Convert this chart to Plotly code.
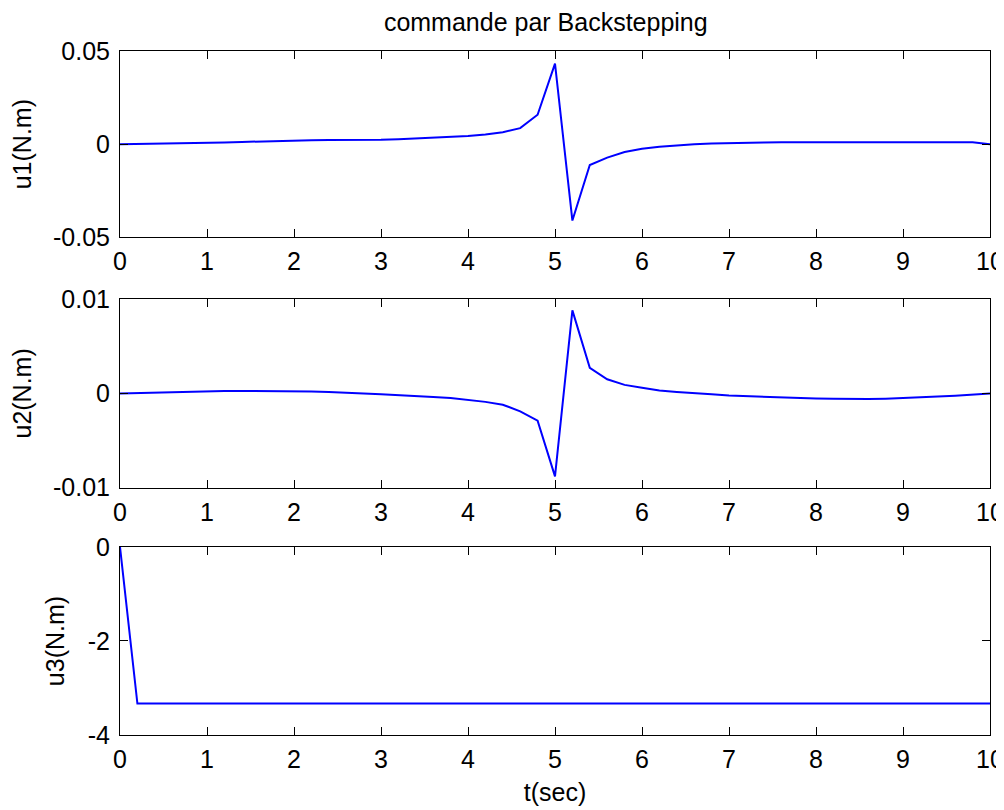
import plotly.graph_objects as go

# ---- data ----
t = [0.0, 0.2, 0.4, 0.6, 0.8, 1.0, 1.2, 1.4, 1.6, 1.8,
     2.0, 2.2, 2.4, 2.6, 2.8, 3.0, 3.2, 3.4, 3.6, 3.8,
     4.0, 4.2, 4.4, 4.6, 4.8, 5.0, 5.2, 5.4, 5.6, 5.8,
     6.0, 6.2, 6.4, 6.6, 6.8, 7.0, 7.2, 7.4, 7.6, 7.8,
     8.0, 8.2, 8.4, 8.6, 8.8, 9.0, 9.2, 9.4, 9.6, 9.8, 10.0]

u1 = [0.0, 0.0001, 0.0002, 0.0003, 0.0004, 0.0006, 0.0009, 0.0012, 0.0015, 0.0018,
      0.0020, 0.0021, 0.0022, 0.0022, 0.0023, 0.0024, 0.0027, 0.0031, 0.0035, 0.0039,
      0.0044, 0.0052, 0.0064, 0.0086, 0.0158, 0.0432, -0.0410, -0.0112, -0.0072, -0.0042,
      -0.0025, -0.0014, -0.0006, -0.0001, 0.0003, 0.0006, 0.0008, 0.0009, 0.0010, 0.0010,
      0.0010, 0.0010, 0.0010, 0.0010, 0.0010, 0.0010, 0.0010, 0.0010, 0.0010, 0.0010, 0.0]

u2 = [0.0, 0.00005, 0.0001, 0.00015, 0.0002, 0.00022, 0.00024, 0.00025, 0.00025, 0.00024,
      0.00022, 0.0002, 0.00015, 0.0001, 0.0, -0.00008, -0.00016, -0.00026, -0.00038, -0.0005,
      -0.00068, -0.0009, -0.0012, -0.0019, -0.0029, -0.0088, 0.0088, 0.0027, 0.0015, 0.0009,
      0.0006, 0.0003, 0.00015, 0.0, -0.0001, -0.00022, -0.0003, -0.00038, -0.00045, -0.0005,
      -0.00055, -0.00058, -0.0006, -0.0006, -0.00056, -0.0005, -0.00042, -0.00034, -0.00024, -0.00014, 0.0]

u3 = [0.0] + [-3.33] * 50

x_ticks = [0, 1, 2, 3, 4, 5, 6, 7, 8, 9, 10]
x_ticktext = ["0", "1", "2", "3", "4", "5", "6", "7", "8", "9", "10"]
y1_ticks = [-0.05, 0, 0.05]
y1_text = ["-0.05", "0", "0.05"]
y2_ticks = [-0.01, 0, 0.01]
y2_text = ["-0.01", "0", "0.01"]
y3_ticks = [-4, -2, 0]
y3_text = ["-4", "-2", "0"]

title_text = "commande par Backstepping"
xlabel = "t(sec)"
ylabels = ["u1(N.m)", "u2(N.m)", "u3(N.m)"]

FONT = "Liberation Sans, Arial, sans-serif"
FS = 25
LINE = "#0000ff"

# page body has an 8px default margin; the figure is sized to fit inside the window
W, H = 996, 802

fig = go.Figure()
series = [u1, u2, u3]
for i, s in enumerate(series):
    sfx = "" if i == 0 else str(i + 1)
    fig.add_trace(go.Scatter(x=t, y=s, mode="lines",
                             line=dict(color=LINE, width=2),
                             xaxis="x" + sfx, yaxis="y" + sfx,
                             showlegend=False, hoverinfo="skip"))

domains = [[0.7276, 1.0], [0.3615, 0.6374], [0.0, 0.2749]]
yranges = [[-0.05, 0.05], [-0.01, 0.01], [-4, 0]]
yticks = [(y1_ticks, y1_text), (y2_ticks, y2_text), (y3_ticks, y3_text)]

common = dict(showline=True, linecolor="black", linewidth=1, mirror="allticks",
              ticks="inside", ticklen=8, tickwidth=1, tickcolor="black",
              showgrid=False, zeroline=False, automargin=False,
              tickfont=dict(family=FONT, size=FS, color="black"))

layout = dict(width=W, height=H,
              margin=dict(l=112, r=14, t=43, b=75, autoexpand=False),
              paper_bgcolor="white", plot_bgcolor="white",
              font=dict(family=FONT, size=FS, color="black"),
              showlegend=False)

for i in range(3):
    sfx = "" if i == 0 else str(i + 1)
    xa = dict(common, domain=[0, 1], range=[0, 10], anchor="y" + sfx,
              tickvals=x_ticks, ticktext=x_ticktext, ticklabelstandoff=2)
    if i == 2:
        xa["title"] = dict(text=xlabel, font=dict(family=FONT, size=FS, color="black"), standoff=11)
    ya = dict(common, domain=domains[i], range=yranges[i], anchor="x" + sfx,
              tickvals=yticks[i][0], ticktext=yticks[i][1], ticklabelstandoff=4,
              title=dict(text=ylabels[i], font=dict(family=FONT, size=FS, color="black"), standoff=16))
    layout["xaxis" + sfx] = xa
    layout["yaxis" + sfx] = ya

layout["title"] = dict(text=title_text, x=(545.8 - 8) / W, y=1 - 14 / H,
                       xanchor="center", yanchor="middle",
                       xref="container", yref="container",
                       font=dict(family=FONT, size=FS, color="black"))

fig.update_layout(**layout)
fig.write_html("out.html")
